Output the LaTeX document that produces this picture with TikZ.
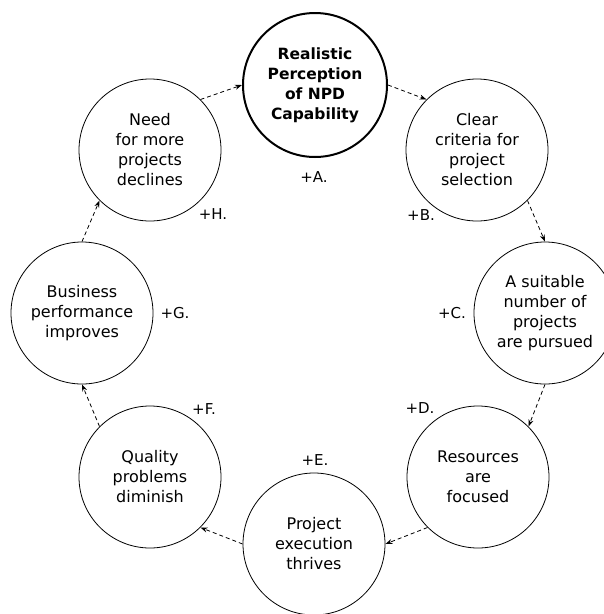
\documentclass[tikz,border=0pt]{standalone}
\usepackage{fontspec}
\setmainfont{DejaVu Sans}
\usetikzlibrary{arrows.meta}
\begin{document}
\begin{tikzpicture}[x=1pt,y=-1pt,
  state/.style={circle,draw,line width=0.8pt,minimum size=142pt,inner sep=0pt,align=center,font=\fontsize{16}{20}\selectfont},
  keystate/.style={state,line width=2pt,minimum size=144pt,font=\fontsize{15.5}{20}\selectfont\bfseries},
  link/.style={dash pattern=on 4pt off 3pt,line width=0.8pt,-{Stealth[length=7pt,width=5pt]}},
  lbl/.style={font=\fontsize{15}{20}\selectfont}]
\useasboundingbox (0,0) rectangle (604,614);
\node[keystate] (A) at (315,85) {Realistic\\Perception\\of NPD\\Capability};
\node[state] (B) at (477,150) {Clear\\criteria for\\project\\selection};
\node[state] (C) at (545,313) {A suitable\\number of\\projects\\are pursued};
\node[state] (D) at (478,477) {Resources\\are\\focused};
\node[state] (E) at (314,544) {Project\\execution\\thrives};
\node[state] (F) at (150,477) {Quality\\problems\\diminish};
\node[state] (G) at (82,313) {Business\\performance\\improves};
\node[state] (H) at (150,150) {Need\\for more\\projects\\declines};
\node[lbl] (la) at (314,177) {+A.};
\node[lbl] (lb) at (421,215) {+B.};
\node[lbl] (lc) at (452,313) {+C.};
\node[lbl] (ld) at (420,408) {+D.};
\node[lbl] (le) at (315,460) {+E.};
\node[lbl] (lf) at (204,409) {+F.};
\node[lbl] (lg) at (175,313) {+G.};
\node[lbl] (lh) at (213,214) {+H.};
\draw[link] (A.east) -- (B.north west);
\draw[link] (B.south east) -- (C.north);
\draw[link] (C.south) -- (D.north east);
\draw[link] (D.south west) -- (E.east);
\draw[link] (E.west) -- (F.south east);
\draw[link] (F.north west) -- (G.south);
\draw[link] (G.north) -- (H.south west);
\draw[link] (H.north east) -- (A.west);
\end{tikzpicture}
\end{document}
